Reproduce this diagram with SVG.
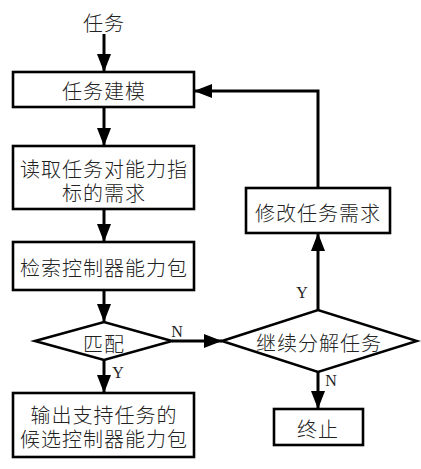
<svg xmlns="http://www.w3.org/2000/svg" width="421" height="469" viewBox="0 0 421 469">
<style>
.box{fill:#fff;stroke:#000;stroke-width:2.6}
.t{font-family:"Noto Sans CJK SC","Noto Sans",sans-serif;font-size:20px;font-weight:300;fill:#222;text-anchor:middle;dominant-baseline:central;letter-spacing:1px}
.yn{font-family:"Liberation Serif",serif;font-size:16px;fill:#222;text-anchor:middle;dominant-baseline:central}
.c{fill:none;stroke:#000;stroke-width:3}
</style>
<defs>
<marker id="ah" viewBox="0 0 18 14" refX="18" refY="7" markerWidth="18" markerHeight="14" markerUnits="userSpaceOnUse" orient="auto">
<path d="M0,0 L18,7 L0,14 Z" fill="#000"/>
</marker>
</defs>
<rect width="421" height="469" fill="#fff"/>
<g id="connectors">
<line class="c" x1="104" y1="34" x2="104" y2="72" marker-end="url(#ah)"/>
<line class="c" x1="104" y1="107" x2="104" y2="146" marker-end="url(#ah)"/>
<line class="c" x1="104" y1="209" x2="104" y2="242" marker-end="url(#ah)"/>
<line class="c" x1="104" y1="290" x2="104" y2="322" marker-end="url(#ah)"/>
<line class="c" x1="104" y1="360" x2="104" y2="393" marker-end="url(#ah)"/>
<line class="c" x1="172" y1="341" x2="222" y2="341" marker-end="url(#ah)"/>
<line class="c" x1="318" y1="310" x2="318" y2="233" marker-end="url(#ah)"/>
<polyline class="c" points="318,188 318,91 194,91" marker-end="url(#ah)"/>
<line class="c" x1="318" y1="372" x2="318" y2="409" marker-end="url(#ah)"/>
<text class="yn" x="177" y="331">N</text>
<text class="yn" x="118" y="372">Y</text>
<text class="yn" x="302" y="292">Y</text>
<text class="yn" x="331" y="380">N</text>
</g>
<g id="start">
<text class="t" x="104" y="22">任务</text>
</g>
<g id="n1">
<rect class="box" x="13" y="72" width="181" height="35"/>
<text class="t" x="104" y="90">任务建模</text>
</g>
<g id="n2">
<rect class="box" x="13" y="146" width="181" height="63"/>
<text class="t" x="104" y="168">读取任务对能力指</text>
<text class="t" x="104" y="192">标的需求</text>
</g>
<g id="n3">
<rect class="box" x="13" y="242" width="181" height="48"/>
<text class="t" x="104" y="267">检索控制器能力包</text>
</g>
<g id="n4">
<polygon class="box" points="35,341 104,322 172,341 104,360"/>
<text class="t" x="104" y="343">匹配</text>
</g>
<g id="n5">
<rect class="box" x="13" y="393" width="181" height="64"/>
<text class="t" x="104" y="414">输出支持任务的</text>
<text class="t" x="104" y="438">候选控制器能力包</text>
</g>
<g id="n6">
<rect class="box" x="246" y="188" width="144" height="45"/>
<text class="t" x="318" y="212">修改任务需求</text>
</g>
<g id="n7">
<polygon class="box" points="222,341 318,310 417,341 318,372"/>
<text class="t" x="319" y="342">继续分解任务</text>
</g>
<g id="n8">
<rect class="box" x="274" y="409" width="89" height="36"/>
<text class="t" x="318" y="428">终止</text>
</g>
</svg>
